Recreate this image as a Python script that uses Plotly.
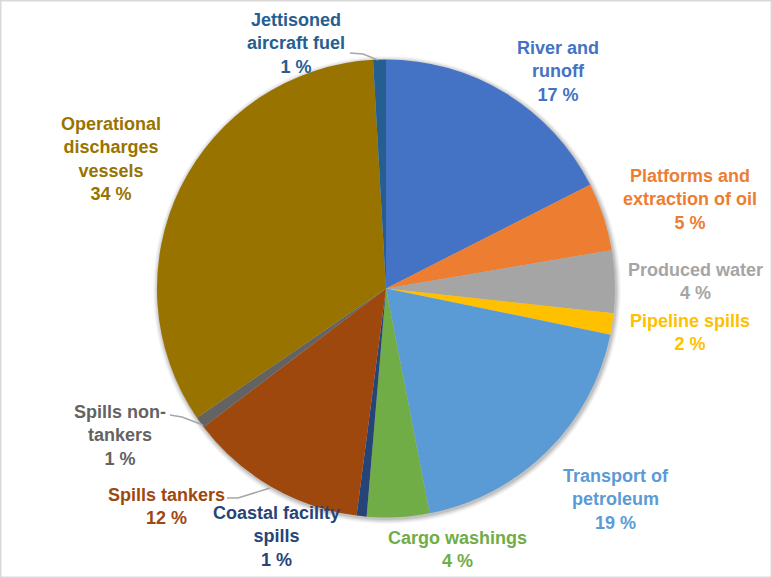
import plotly.graph_objects as go

W, H = 772, 578

categories = [
    "River and runoff", "Platforms and extraction of oil", "Produced water",
    "Pipeline spills", "Transport of petroleum", "Cargo washings",
    "Coastal facility spills", "Spills tankers", "Spills non-tankers",
    "Operational discharges vessels", "Jettisoned aircraft fuel",
]
values = [17.5, 4.8, 4.4, 1.5, 18.7, 4.4, 0.7, 12.6, 0.8, 33.6, 0.9]
pct_labels = ["17 %", "5 %", "4 %", "2 %", "19 %", "4 %", "1 %", "12 %", "1 %", "34 %", "1 %"]
wrapped = [
    "River and<br>runoff", "Platforms and<br>extraction of oil", "Produced water",
    "Pipeline spills", "Transport of<br>petroleum", "Cargo washings",
    "Coastal facility<br>spills", "Spills tankers", "Spills non-<br>tankers",
    "Operational<br>discharges<br>vessels", "Jettisoned<br>aircraft fuel",
]
colors = ["#4472C4", "#ED7D31", "#A5A5A5", "#FFC000", "#5B9BD5", "#70AD47",
          "#264478", "#9E480E", "#636363", "#997300", "#255E91"]

# label block centres in pixels
label_pos = [(558, 71), (690, 200), (695, 281), (690, 332), (616, 499), (457, 549),
             (276, 536), (166, 506), (120, 435), (111, 159), (296, 43)]

cx, cy, r = 386, 288.5, 229

fig = go.Figure(go.Pie(
    labels=categories, values=values, sort=False, direction="clockwise",
    rotation=0, textinfo="none", hoverinfo="label+percent",
    marker=dict(colors=colors, line=dict(width=0)),
    domain=dict(x=[(cx - r) / W, (cx + r) / W], y=[1 - (cy + r) / H, 1 - (cy - r) / H]),
    showlegend=False,
))

FONT = "Liberation Sans, Arial, sans-serif"
annotations = []
for name, pct, col, (px, py) in zip(wrapped, pct_labels, colors, label_pos):
    annotations.append(dict(
        x=px / W, y=1 - py / H, xref="paper", yref="paper",
        text=f"<b>{name}<br>{pct}</b>", showarrow=False,
        xanchor="center", yanchor="middle", align="center",
        font=dict(family=FONT, size=18, color=col),
    ))

def path(pts):
    s = ""
    for i, (px, py) in enumerate(pts):
        s += ("M" if i == 0 else " L") + f" {px / W:.5f},{1 - py / H:.5f}"
    return s

shapes = []
# soft shadow behind the pie
for k, a in [(5, 0.03), (4, 0.04), (3, 0.05), (2, 0.06), (1, 0.08)]:
    shapes.append(dict(type="circle", xref="paper", yref="paper", layer="below",
                       x0=(cx - r - k + 1) / W, x1=(cx + r + k + 1) / W,
                       y0=1 - (cy + r + k + 1.5) / H, y1=1 - (cy - r - k + 1.5) / H,
                       line=dict(width=0), fillcolor=f"rgba(0,0,0,{a})"))

leaders = [
    [(350, 53), (363, 54), (378, 60)],
    [(170, 415), (182, 417), (203, 425)],
    [(227, 498), (238, 498), (270, 488)],
]
shapes += [dict(type="path", path=path(p), xref="paper", yref="paper",
                line=dict(color="#A6A6A6", width=1.5)) for p in leaders]
shapes.append(dict(type="rect", x0=0, y0=0, x1=1, y1=1, xref="paper", yref="paper",
                   line=dict(color="#D9D9D9", width=3), layer="above"))

fig.update_layout(
    width=W, height=H, margin=dict(l=0, r=0, t=0, b=0),
    paper_bgcolor="white", plot_bgcolor="white",
    annotations=annotations, shapes=shapes,
)

fig.write_html("out.html", config={"displayModeBar": False},
               post_script="document.body.style.margin='0px';document.body.style.overflow='hidden';")
